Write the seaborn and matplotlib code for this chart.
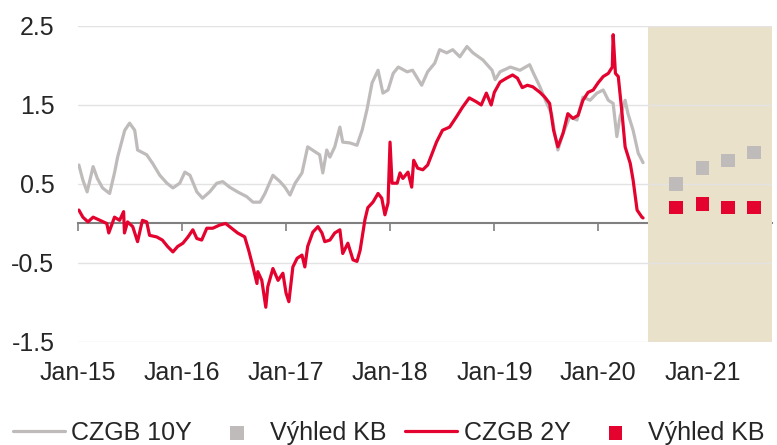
import pandas as pd
import matplotlib
matplotlib.use("Agg")
import matplotlib.pyplot as plt
import matplotlib.dates as mdates
import seaborn as sns

# CZGB 10Y yield
dates_10y = ["2015-01-04", "2015-01-18", "2015-02-02", "2015-02-23", "2015-03-10", "2015-03-28",
             "2015-04-22", "2015-05-09", "2015-05-20", "2015-06-14", "2015-07-01", "2015-07-19",
             "2015-07-29", "2015-08-30", "2015-09-20", "2015-10-15", "2015-11-09", "2015-11-30",
             "2015-12-24", "2016-01-11", "2016-01-29", "2016-02-22", "2016-03-13", "2016-04-07",
             "2016-05-02", "2016-05-23", "2016-06-16", "2016-07-14", "2016-08-15", "2016-09-06",
             "2016-10-01", "2016-10-18", "2016-11-15", "2016-12-10", "2016-12-27", "2017-01-14",
             "2017-02-01", "2017-02-25", "2017-03-17", "2017-04-11", "2017-04-28", "2017-05-09",
             "2017-05-23", "2017-06-03", "2017-06-20", "2017-07-08", "2017-07-18", "2017-08-12",
             "2017-09-06", "2017-09-24", "2017-10-11", "2017-10-29", "2017-11-19", "2017-12-06",
             "2017-12-24", "2018-01-11", "2018-01-29", "2018-03-01", "2018-03-20", "2018-04-21",
             "2018-05-12", "2018-06-06", "2018-06-23", "2018-07-18", "2018-08-08", "2018-09-02",
             "2018-09-27", "2018-10-18", "2018-11-22", "2018-12-24", "2019-01-04", "2019-01-21",
             "2019-02-26", "2019-04-01", "2019-05-05", "2019-05-16", "2019-06-10", "2019-07-04",
             "2019-07-21", "2019-08-01", "2019-08-12", "2019-08-30", "2019-09-23", "2019-10-18",
             "2019-11-08", "2019-12-03", "2019-12-27", "2020-01-18", "2020-02-05", "2020-02-22",
             "2020-03-06", "2020-03-17", "2020-04-04", "2020-04-14", "2020-05-02", "2020-05-20",
             "2020-06-06"]
czgb_10y = [0.74, 0.55, 0.40, 0.72, 0.57, 0.45,
            0.38, 0.64, 0.84, 1.18, 1.27, 1.18,
            0.93, 0.87, 0.76, 0.61, 0.51, 0.45,
            0.51, 0.65, 0.61, 0.40, 0.32, 0.40,
            0.51, 0.53, 0.46, 0.40, 0.34, 0.27,
            0.27, 0.38, 0.61, 0.53, 0.46, 0.36,
            0.51, 0.64, 0.97, 0.91, 0.87, 0.64,
            0.93, 0.84, 0.97, 1.22, 1.03, 1.02,
            0.99, 1.18, 1.44, 1.78, 1.94, 1.65,
            1.69, 1.90, 1.98, 1.92, 1.94, 1.75,
            1.92, 2.03, 2.20, 2.16, 2.20, 2.11,
            2.24, 2.16, 2.07, 1.94, 1.82, 1.92,
            1.98, 1.94, 2.01, 1.92, 1.73, 1.52,
            1.39, 1.14, 0.93, 1.14, 1.35, 1.31,
            1.60, 1.56, 1.65, 1.69, 1.56, 1.52,
            1.10, 1.35, 1.56, 1.39, 1.18, 0.89,
            0.77]

# CZGB 2Y yield
dates_2y = ["2015-01-04", "2015-01-18", "2015-02-05", "2015-02-23", "2015-03-19", "2015-04-12",
            "2015-04-19", "2015-05-09", "2015-05-27", "2015-06-10", "2015-06-13", "2015-06-24",
            "2015-07-12", "2015-07-29", "2015-08-15", "2015-08-30", "2015-09-09", "2015-10-04",
            "2015-10-24", "2015-11-11", "2015-11-30", "2015-12-17", "2016-01-04", "2016-01-22",
            "2016-02-08", "2016-02-22", "2016-03-10", "2016-03-28", "2016-04-18", "2016-05-12",
            "2016-06-02", "2016-06-23", "2016-07-14", "2016-08-08", "2016-08-22", "2016-09-06",
            "2016-09-20", "2016-09-23", "2016-10-07", "2016-10-21", "2016-10-28", "2016-11-15",
            "2016-12-03", "2016-12-20", "2016-12-31", "2017-01-10", "2017-01-24", "2017-02-08",
            "2017-02-25", "2017-03-07", "2017-03-17", "2017-04-04", "2017-04-22", "2017-05-06",
            "2017-05-16", "2017-06-03", "2017-06-20", "2017-07-08", "2017-07-18", "2017-08-05",
            "2017-08-23", "2017-09-06", "2017-09-17", "2017-10-04", "2017-10-14", "2017-11-01",
            "2017-11-19", "2017-12-02", "2017-12-13", "2017-12-24", "2017-12-31", "2018-01-07",
            "2018-01-25", "2018-02-04", "2018-02-14", "2018-03-04", "2018-03-17", "2018-03-24",
            "2018-04-07", "2018-04-25", "2018-05-12", "2018-05-26", "2018-06-12", "2018-07-03",
            "2018-07-28", "2018-08-21", "2018-09-11", "2018-10-05", "2018-10-30", "2018-11-16",
            "2018-12-04", "2018-12-21", "2019-01-01", "2019-01-21", "2019-02-13", "2019-03-06",
            "2019-03-23", "2019-04-09", "2019-04-27", "2019-05-16", "2019-06-10", "2019-06-27",
            "2019-07-14", "2019-07-28", "2019-08-12", "2019-08-30", "2019-09-16", "2019-10-04",
            "2019-10-22", "2019-11-08", "2019-11-26", "2019-12-14", "2019-12-31", "2020-01-18",
            "2020-02-05", "2020-02-19", "2020-02-22", "2020-03-01", "2020-03-11", "2020-03-24",
            "2020-04-04", "2020-04-22", "2020-05-02", "2020-05-16", "2020-06-02", "2020-06-06"]
czgb_2y = [0.17, 0.08, 0.02, 0.08, 0.04, 0.00,
           -0.12, 0.08, 0.04, 0.15, -0.12, 0.02,
           -0.04, -0.23, 0.04, 0.02, -0.15, -0.17,
           -0.21, -0.29, -0.36, -0.29, -0.25, -0.17,
           -0.08, -0.19, -0.21, -0.06, -0.06, -0.02,
           0.00, -0.06, -0.12, -0.17, -0.34, -0.55,
           -0.76, -0.61, -0.72, -1.06, -0.80, -0.57,
           -0.72, -0.63, -0.88, -0.99, -0.55, -0.44,
           -0.40, -0.55, -0.29, -0.11, -0.04, -0.12,
           -0.23, -0.21, -0.12, -0.08, -0.38, -0.25,
           -0.46, -0.48, -0.34, 0.05, 0.20, 0.27,
           0.38, 0.32, 0.11, 0.26, 1.03, 0.51,
           0.51, 0.64, 0.57, 0.65, 0.46, 0.80,
           0.70, 0.68, 0.74, 0.87, 1.03, 1.18,
           1.22, 1.35, 1.47, 1.59, 1.54, 1.50,
           1.65, 1.50, 1.66, 1.79, 1.84, 1.88,
           1.84, 1.72, 1.75, 1.73, 1.66, 1.60,
           1.52, 1.18, 0.97, 1.14, 1.39, 1.33,
           1.37, 1.56, 1.66, 1.69, 1.78, 1.86,
           1.90, 1.98, 2.39, 1.90, 1.86, 1.40,
           0.97, 0.76, 0.55, 0.17, 0.08, 0.07]

# KB outlook (quarter ends)
outlook_dates = ["2020-09-30", "2020-12-31", "2021-03-31", "2021-06-30"]
outlook_10y = [0.50, 0.70, 0.80, 0.90]
outlook_2y = [0.20, 0.25, 0.20, 0.20]

forecast_start = "2020-06-25"
x_start = "2015-01-01"
x_end = "2021-09-01"
y_ticks = [-1.5, -0.5, 0.5, 1.5, 2.5]

GRAY = "#BFBBBB"
RED = "#E4032E"
BEIGE = "#EAE1CB"

df10 = pd.DataFrame({"date": pd.to_datetime(dates_10y), "value": czgb_10y})
df2 = pd.DataFrame({"date": pd.to_datetime(dates_2y), "value": czgb_2y})
dfo = pd.DataFrame({"date": pd.to_datetime(outlook_dates),
                    "y10": outlook_10y, "y2": outlook_2y})

sns.set_style("white")
plt.rcParams['font.family'] = ['Liberation Sans', 'DejaVu Sans']
plt.rcParams['font.size'] = 18

fig = plt.figure(figsize=(7.77, 4.45), dpi=100)
ax = fig.add_axes([0.1004, 0.2315, 0.893, 0.7101])

ax.axvspan(pd.Timestamp(forecast_start), pd.Timestamp(x_end), color=BEIGE, lw=0, zorder=0.2)

sns.lineplot(data=df10, x="date", y="value", ax=ax, color=GRAY, lw=2.3, label="CZGB 10Y")
sns.scatterplot(data=dfo, x="date", y="y10", ax=ax, marker="s", s=95, color=GRAY,
                edgecolor="none", label="Výhled KB", zorder=3)
sns.lineplot(data=df2, x="date", y="value", ax=ax, color=RED, lw=2.3, label="CZGB 2Y")
sns.scatterplot(data=dfo, x="date", y="y2", ax=ax, marker="s", s=95, color=RED,
                edgecolor="none", label="Výhled KB", zorder=3)

ax.set_xlim(pd.Timestamp(x_start), pd.Timestamp(x_end))
ax.set_ylim(-1.5, 2.5)
ax.set_yticks(y_ticks)
ax.set_yticklabels([f"{v:.1f}" for v in y_ticks])
ax.set_xlabel("")
ax.set_ylabel("")

ax.xaxis.set_major_locator(mdates.YearLocator())
ax.xaxis.set_major_formatter(mdates.DateFormatter("%b-%y"))
ax.tick_params(axis="x", length=0, pad=14, labelsize=18)
ax.tick_params(axis="y", length=0, pad=17, labelsize=18)

ax.set_axisbelow(True)
ax.grid(axis="y", color="#E3E3E3", lw=1.0)
ax.grid(axis="x", visible=False)
for s in ax.spines.values():
    s.set_visible(False)

# zero line with tick marks
zero = ax.secondary_xaxis(1.5 / 4.0)
zero.xaxis.set_major_locator(mdates.YearLocator())
zero.tick_params(axis="x", direction="out", length=6, width=1.2, color="#808080",
                 labelbottom=False)
zero.spines["bottom"].set_color("#808080")
zero.spines["bottom"].set_linewidth(1.5)

handles, labels = ax.get_legend_handles_labels()
ax.get_legend().remove()
fig.legend(handles, labels, ncol=4, loc="lower center", bbox_to_anchor=(0.5, -0.05),
           frameon=False, handlelength=2.1, handletextpad=0.25, columnspacing=0.75,
           fontsize=18)

fig.savefig("out.png", dpi=100)
